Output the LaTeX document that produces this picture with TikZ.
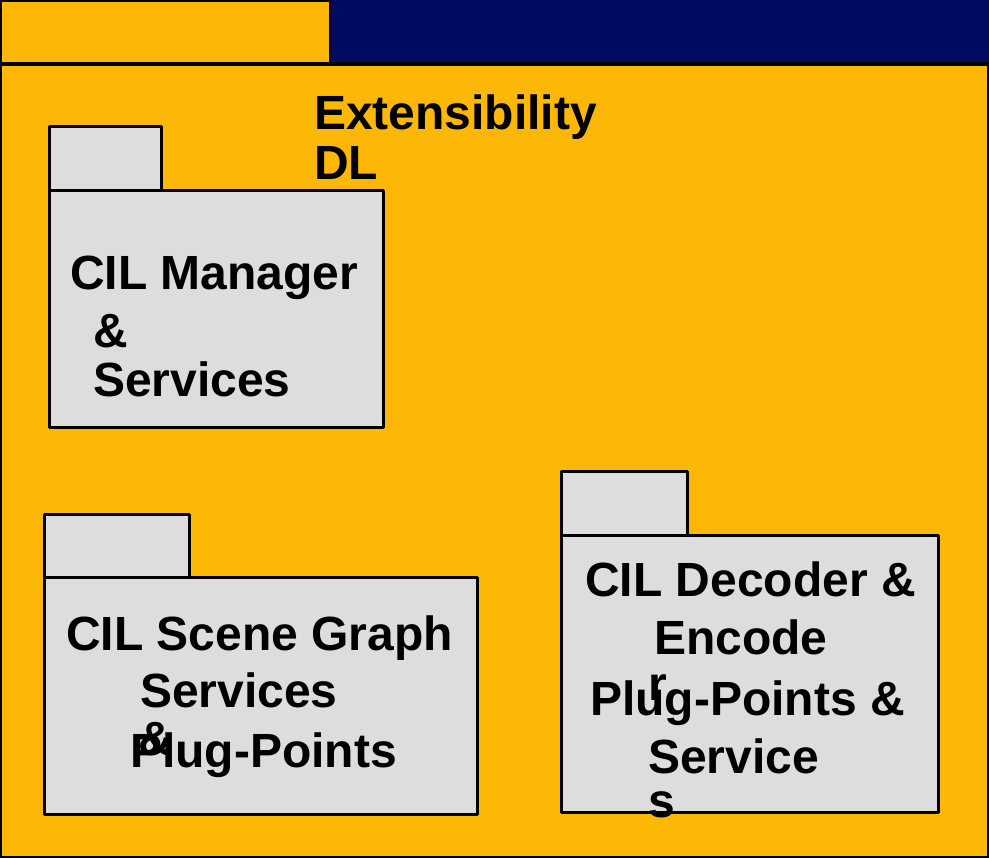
\documentclass[tikz,border=0pt]{standalone}
\usepackage{fontspec}
\setmainfont{Liberation Sans}
\definecolor{navy}{RGB}{0,10,94}
\definecolor{pkgyellow}{RGB}{253,183,6}
\definecolor{pkggray}{RGB}{221,221,221}
\tikzset{
  pkg/.style={draw=black, fill=pkggray, line width=3pt, line join=round},
  lbl/.style={anchor=base west, inner sep=0pt, font=\bfseries\fontsize{48}{56}\selectfont},
}
\begin{document}
\begin{tikzpicture}[x=1pt,y=-1pt]
\useasboundingbox (0,0) rectangle (989,858);
% outer package
\fill[navy] (0,0) rectangle (989,65);
\draw[fill=pkgyellow, line width=2pt] (1,1) rectangle (330,65);
\draw[fill=pkgyellow, line width=2pt] (1,65) rectangle (988,857);
\draw[line width=4pt] (0,64) -- (989,64);
\node[lbl] (ext1) at (314,130) {Extensibility};
\node[lbl] (ext2) at (314,180) {DL};
% package 1
\draw[pkg] (49,127) rectangle (161,191);
\draw[pkg] (49,191) rectangle (383,428);
\node[lbl] (m1) at (70,290) {CIL Manager};
\node[lbl] (m2) at (93,348) {\&};
\node[lbl] (m3) at (93,397) {Services};
% package 2
\draw[pkg] (44,515) rectangle (189,578);
\draw[pkg] (44,578) rectangle (477,814);
\node[lbl] (s1) at (66,650) {CIL Scene Graph};
\node[lbl] (s2) at (140,707) {Services};
\node[lbl] (s3) at (138,755) {\&};
\node[lbl] (s4) at (130,767) {Plug-Points};
% package 3
\draw[pkg] (561,472) rectangle (687,536);
\draw[pkg] (561,536) rectangle (938,812);
\node[lbl] (d1) at (585,597) {CIL Decoder \&};
\node[lbl] (d2) at (654,655) {Encode};
\node[lbl] (d3) at (648,700) {r};
\node[lbl] (d4) at (590,715) {Plug-Points \&};
\node[lbl] (d5) at (648,773) {Service};
\node[lbl] (d6) at (648,817) {s};
\end{tikzpicture}
\end{document}
